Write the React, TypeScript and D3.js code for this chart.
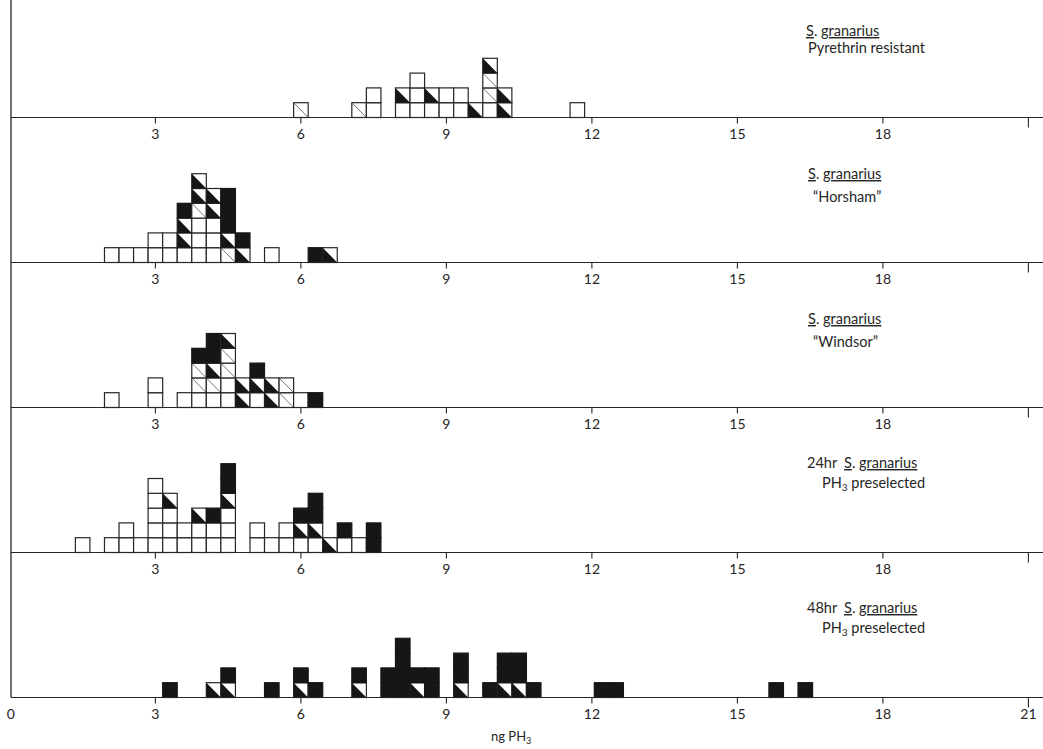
import React, { useEffect, useRef } from 'react';
import * as d3 from 'd3';

// cell codes, bottom to top: w = open square, b = filled, h = half filled (lower-left), d = diagonal stroke
const pyrethrinBins = [6.0, 7.2, 7.5, 8.1, 8.4, 8.7, 9.0, 9.3, 9.6, 9.9, 10.2, 11.7];
const pyrethrinStacks = ['d', 'd', 'ww', 'wh', 'www', 'wh', 'ww', 'ww', 'h', 'wddh', 'hh', 'w'];

const horshamBins = [2.1, 2.4, 2.7, 3.0, 3.3, 3.6, 3.9, 4.2, 4.5, 4.8, 5.4, 6.3, 6.6];
const horshamStacks = ['w', 'w', 'w', 'ww', 'ww', 'whhb', 'wwwdhh', 'wwwhh', 'dhbbb', 'hb', 'w', 'b', 'h'];

const windsorBins = [2.1, 3.0, 3.6, 3.9, 4.2, 4.5, 4.8, 5.1, 5.4, 5.7, 6.0, 6.3];
const windsorStacks = ['w', 'ww', 'w', 'wddb', 'wdhbb', 'wwddh', 'hh', 'whb', 'hh', 'dd', 'w', 'b'];

const pre24Bins = [1.5, 2.1, 2.4, 2.7, 3.0, 3.3, 3.6, 3.9, 4.2, 4.5, 5.1, 5.4, 5.7, 6.0, 6.3, 6.6, 6.9, 7.2, 7.5];
const pre24Stacks = ['w', 'w', 'ww', 'w', 'wwwww', 'wwwh', 'ww', 'wwh', 'wwb', 'wwwhbb', 'ww', 'w', 'ww', 'whb', 'whbb', 'h', 'wb', 'w', 'bb'];

const pre48Bins = [3.3, 4.2, 4.5, 5.4, 6.0, 6.3, 7.2, 7.8, 8.1, 8.4, 8.7, 9.3, 9.9, 10.2, 10.5, 10.8, 12.2, 12.5, 15.8, 16.4];
const pre48Stacks = ['b', 'h', 'hb', 'b', 'hb', 'b', 'hb', 'bb', 'bbbb', 'hb', 'bb', 'hbb', 'b', 'hbb', 'hbb', 'b', 'b', 'b', 'b', 'b'];

const tickValues = [3, 6, 9, 12, 15, 18, 21];
const bottomTickLabels = [0, 3, 6, 9, 12, 15, 18, 21];
const innerTickLabels = [3, 6, 9, 12, 15, 18];

const ink = '#262626';

const App = () => {
    const svgRef = useRef(null);

    useEffect(() => {
        const width = 1043, height = 749;
        const svg = d3.select(svgRef.current);
        svg.selectAll('*').remove();
        svg.attr('width', width).attr('height', height);

        const x = d3.scaleLinear().domain([0, 21]).range([9.9, 1028.4]);
        const cellW = x(0.3) - x(0);
        const cellH = 14.8;

        const panels = [
            { bins: pyrethrinBins, stacks: pyrethrinStacks, base: 117.5 },
            { bins: horshamBins, stacks: horshamStacks, base: 262.5 },
            { bins: windsorBins, stacks: windsorStacks, base: 407.5 },
            { bins: pre24Bins, stacks: pre24Stacks, base: 552.5 },
            { bins: pre48Bins, stacks: pre48Stacks, base: 697.5 }
        ];

        // left axis
        svg.append('line')
            .attr('x1', 11).attr('x2', 11)
            .attr('y1', 0).attr('y2', 697.5)
            .attr('stroke', ink).attr('stroke-width', 1.3);

        panels.forEach((p, pi) => {
            const y = d3.scaleLinear().domain([0, 1]).range([p.base, p.base - cellH]);
            const g = svg.append('g');

            p.bins.forEach((bin, i) => {
                const x0 = x(bin) - cellW / 2;
                p.stacks[i].split('').forEach((code, j) => {
                    const y0 = y(j + 1);
                    g.append('rect')
                        .attr('x', x0).attr('y', y0)
                        .attr('width', cellW).attr('height', cellH)
                        .attr('fill', code === 'b' ? '#161616' : '#fff')
                        .attr('stroke', code === 'b' ? '#161616' : ink)
                        .attr('stroke-width', 1.2);
                    if (code === 'h') {
                        g.append('path')
                            .attr('d', `M${x0},${y0}L${x0},${y0 + cellH}L${x0 + cellW},${y0 + cellH}Z`)
                            .attr('fill', '#161616');
                    }
                    if (code === 'd') {
                        g.append('line')
                            .attr('x1', x0).attr('y1', y0)
                            .attr('x2', x0 + cellW).attr('y2', y0 + cellH)
                            .attr('stroke', '#555').attr('stroke-width', 0.8);
                    }
                });
            });

            // baseline
            svg.append('line')
                .attr('x1', 11).attr('x2', width)
                .attr('y1', p.base).attr('y2', p.base)
                .attr('stroke', ink).attr('stroke-width', 1.2);

            tickValues.forEach(t => {
                svg.append('line')
                    .attr('x1', x(t)).attr('x2', x(t))
                    .attr('y1', p.base).attr('y2', p.base + (t === 21 ? 10 : 6))
                    .attr('stroke', ink).attr('stroke-width', 1.1);
            });

            const labels = pi === panels.length - 1 ? bottomTickLabels : innerTickLabels;
            svg.append('g').selectAll('text')
                .data(labels)
                .enter()
                .append('text')
                .attr('x', d => x(d) + (d === 0 ? 1 : 0))
                .attr('y', p.base + 21)
                .attr('text-anchor', 'middle')
                .attr('font-family', 'Lato, sans-serif')
                .attr('font-size', 14)
                .attr('fill', ink)
                .text(d => d);
        });

        const addSpecies = (tx, ty) => {
            const t = svg.append('text')
                .attr('x', tx).attr('y', ty)
                .attr('font-family', 'Lato, sans-serif')
                .attr('font-size', 14.5)
                .attr('fill', ink);
            t.append('tspan').style('text-decoration', 'underline').text('S');
            t.append('tspan').text('. ');
            t.append('tspan').style('text-decoration', 'underline').text('granarius');
        };

        const addText = (tx, ty, str) => {
            return svg.append('text')
                .attr('x', tx).attr('y', ty)
                .attr('font-family', 'Lato, sans-serif')
                .attr('font-size', 14.5)
                .attr('fill', ink)
                .text(str);
        };

        const addPH3 = (tx, ty, rest, size) => {
            const t = svg.append('text')
                .attr('x', tx).attr('y', ty)
                .attr('font-family', 'Lato, sans-serif')
                .attr('font-size', size)
                .attr('fill', ink);
            t.append('tspan').text(rest[0] + 'PH');
            t.append('tspan').attr('dy', 3).attr('font-size', size * 0.7).text('3');
            t.append('tspan').attr('dy', -3).text(rest[1]);
        };

        addSpecies(806, 36);
        addText(808, 53, 'Pyrethrin resistant');

        addSpecies(808, 179);
        addText(813, 202, '\u201CHorsham\u201D');

        addSpecies(808, 324);
        addText(813, 347, '\u201CWindsor\u201D');

        addText(807, 468, '24hr');
        addSpecies(844, 468);
        addPH3(822, 488, ['', ' preselected'], 14.5);

        addText(807, 613, '48hr');
        addSpecies(844, 613);
        addPH3(822, 633, ['', ' preselected'], 14.5);

        addPH3(491, 741, ['ng ', ''], 13);
    }, []);

    return (
        <svg ref={svgRef} style={{ position: 'absolute', left: 0, top: 0, background: '#fff' }}></svg>
    );
};

export default App;
